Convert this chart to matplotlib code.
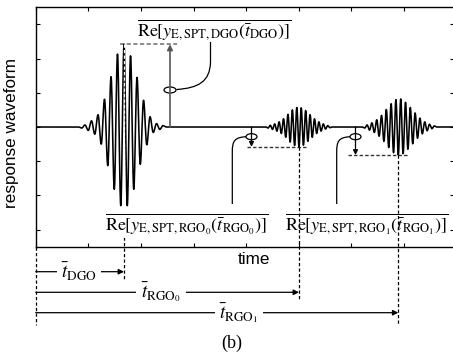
import numpy as np
import matplotlib
matplotlib.use('Agg')
import matplotlib.pyplot as plt
from matplotlib.patches import Ellipse, PathPatch
from matplotlib.path import Path

plt.rcParams['mathtext.fontset'] = 'stix'

# ---- data: extrema (time, amplitude) of the three wave packets
dgo_t = [0.814, 0.876, 0.937, 0.999, 1.061, 1.123, 1.185, 1.246, 1.308, 1.370, 1.432, 1.494,
         1.555, 1.617, 1.679, 1.741, 1.803, 1.864, 1.926, 1.988, 2.050, 2.112, 2.173, 2.235,
         2.297, 2.359, 2.421, 2.482]
dgo_v = [0.0, -0.03, 0.06, -0.10, 0.18, -0.21, 0.36, -0.50, 0.81, -1.13, 1.47, -1.82,
         2.13, -2.30, 2.42, -2.30, 2.08, -1.82, 1.45, -1.09, 0.78, -0.52, 0.30, -0.16,
         0.10, -0.07, 0.04, 0.0]

rgo0_t = [4.376, 4.418, 4.460, 4.502, 4.544, 4.586, 4.628, 4.670, 4.712, 4.754, 4.796, 4.838,
          4.880, 4.922, 4.964, 5.006, 5.048, 5.090, 5.132, 5.174, 5.216, 5.258, 5.300, 5.342,
          5.384, 5.426, 5.468, 5.510, 5.552, 5.594, 5.636]
rgo0_v = [0.0, -0.03, 0.05, -0.07, 0.09, -0.12, 0.15, -0.19, 0.24, -0.30, 0.37, -0.44,
          0.50, -0.54, 0.57, -0.58, 0.56, -0.53, 0.48, -0.42, 0.36, -0.30, 0.24, -0.19,
          0.15, -0.12, 0.09, -0.06, 0.04, -0.02, 0.0]

rgo1_t = [6.210, 6.256, 6.301, 6.347, 6.392, 6.438, 6.484, 6.529, 6.575, 6.620, 6.666, 6.712,
          6.757, 6.803, 6.848, 6.894, 6.940, 6.985, 7.031, 7.076, 7.122, 7.168, 7.213, 7.259,
          7.304, 7.350, 7.396, 7.441, 7.487, 7.532, 7.578, 7.624]
rgo1_v = [0.0, -0.03, 0.06, -0.09, 0.12, -0.16, 0.21, -0.27, 0.34, -0.42, 0.51, -0.60,
          0.68, -0.75, 0.80, -0.82, 0.82, -0.78, 0.72, -0.65, 0.57, -0.49, 0.41, -0.33,
          0.26, -0.20, 0.15, -0.11, 0.08, -0.05, 0.03, 0.0]

t_range = [0.0, 7.96]
y_ticks = [-3, -2, -1, 0, 1, 2, 3]
x_ticks = [0, 1, 2, 3, 4, 5, 6, 7]

# ---- figure geometry (pixels of the 453x354 picture)
W, H = 453, 354
X0, SX = 35.7, 52.6      # pixel of t=0, pixels per unit t
Y0, SY = 127.0, 34.2     # pixel of y=0, pixels per unit y
def X(px): return (px - X0) / SX
def Y(py): return (Y0 - py) / SY

fig = plt.figure(figsize=(W / 100, H / 100), dpi=100)
ax_left = X0 / W
ax_bottom = (H - 246.7) / H
ax = fig.add_axes([ax_left, ax_bottom, (t_range[1] * SX) / W, 239.4 / H])
ax.set_xlim(*t_range)
ax.set_ylim(-3.5, 3.5)
ax.set_xticks(x_ticks)
ax.set_yticks(y_ticks)
ax.tick_params(direction='in', length=3, width=0.8, top=True, right=True,
               labelbottom=False, labelleft=False)
for s in ax.spines.values():
    s.set_linewidth(1.0)

# ---- waveform: smooth half-cosine strokes between successive extrema
pts_t = [t_range[0]] + dgo_t + rgo0_t + rgo1_t + [t_range[1]]
pts_v = [0.0] + dgo_v + rgo0_v + rgo1_v + [0.0]
xs, ys = [], []
for i in range(len(pts_t) - 1):
    s = np.linspace(0, 1, 14, endpoint=False)
    t0, t1, v0, v1 = pts_t[i], pts_t[i + 1], pts_v[i], pts_v[i + 1]
    xs.append(t0 + (t1 - t0) * s)
    ys.append((v0 + v1) / 2 + (v0 - v1) / 2 * np.cos(np.pi * s))
xs.append([pts_t[-1]]); ys.append([pts_v[-1]])
ax.plot(np.concatenate(xs), np.concatenate(ys), color='black', lw=1.15, zorder=3)

# ---- key points
i_dgo = int(np.argmax(dgo_v)); t_dgo, a_dgo = dgo_t[i_dgo], dgo_v[i_dgo]
i_r0 = int(np.argmin(rgo0_v)); t_r0, a_r0 = rgo0_t[i_r0], rgo0_v[i_r0]
i_r1 = int(np.argmin(rgo1_v)); t_r1, a_r1 = rgo1_t[i_r1], rgo1_v[i_r1]

dash = (0, (2.6, 1.8))
kw = dict(clip_on=False)

# DGO annotation
ax.plot([t_dgo - 0.08, t_dgo + 1.0], [a_dgo, a_dgo], color='#777777', lw=1.2,
        ls=(0, (2.5, 1.5)), zorder=2, **kw)
ax.plot([t_dgo, t_dgo], [a_dgo, Y(206)], color='white', lw=0.9, ls=dash, zorder=4, **kw)
ax.plot([t_dgo, t_dgo], [Y(237), Y(280)], color='black', lw=0.9, ls=dash, zorder=4, **kw)
xa = t_dgo + 0.874
ax.annotate('', xy=(xa, a_dgo), xytext=(xa, 0), annotation_clip=False,
            arrowprops=dict(arrowstyle='-|>', color='#555555', lw=1.2,
                            mutation_scale=8, shrinkA=0, shrinkB=0))
ax.add_patch(Ellipse((xa, Y(90)), 12 / SX, 6 / SY, fill=False, lw=0.9, color='black'))
verts = [(X(176.5), Y(89.5)), (X(198), Y(88)), (X(210), Y(82)), (X(210.5), Y(62)),
         (X(210.5), Y(42))]
codes = [Path.MOVETO, Path.CURVE4, Path.CURVE4, Path.CURVE4, Path.LINETO]
ax.add_patch(PathPatch(Path(verts, codes), fill=False, lw=0.9, clip_on=False))

# RGO0 and RGO1 annotations
for t_c, a_c, xarr, left, right, px_line, y_end in [
        (t_r0, a_r0, X(251.5), 247, 307, 232.3, 300.7),
        (t_r1, a_r1, X(355.5), 347.7, 408, 336.7, 325)]:
    ax.plot([X(left), X(right)], [a_c, a_c], color='#333333', lw=1.0,
            ls=(0, (2.5, 1.5)), zorder=2, **kw)
    ax.plot([t_c, t_c], [a_c, Y(y_end)], color='black', lw=0.9, ls=dash, zorder=2, **kw)
    ax.annotate('', xy=(xarr, a_c), xytext=(xarr, 0), annotation_clip=False,
                arrowprops=dict(arrowstyle='-|>', color='black', lw=0.9,
                                mutation_scale=7, shrinkA=0, shrinkB=0))
    ax.add_patch(Ellipse((xarr, Y(136.7)), 11 / SX, 6 / SY, fill=False, lw=0.9,
                         color='black'))
    pxa = xarr * SX + X0
    verts = [(X(pxa - 5.5), Y(136.7)), (X(px_line + 2), Y(137.5)),
             (X(px_line), Y(141)), (X(px_line), Y(152)), (X(px_line), Y(204))]
    codes = [Path.MOVETO, Path.CURVE4, Path.CURVE4, Path.CURVE4, Path.LINETO]
    ax.add_patch(PathPatch(Path(verts, codes), fill=False, lw=0.9, clip_on=False))

# zero-time dashed line
ax.plot([0, 0], [Y(247), Y(325)], color='black', lw=0.9, ls=dash, **kw)

# labels
fs_m = 13
ax.text(X(137), Y(30), r'$\overline{\mathrm{Re}[y_{\mathrm{E,SPT,DGO}}(\bar{t}_{\mathrm{DGO}})]}$',
        fontsize=fs_m, ha='left', va='center', **kw)
ax.text(X(105), Y(224), r'$\overline{\mathrm{Re}[y_{\mathrm{E,SPT,RGO_0}}(\bar{t}_{\mathrm{RGO_0}})]}$',
        fontsize=fs_m, ha='left', va='center', zorder=5,
        bbox=dict(boxstyle='square,pad=0.1', fc='white', ec='none'), **kw)
ax.text(X(285), Y(224), r'$\overline{\mathrm{Re}[y_{\mathrm{E,SPT,RGO_1}}(\bar{t}_{\mathrm{RGO_1}})]}$',
        fontsize=fs_m, ha='left', va='center', zorder=5, **kw)

# time arrows below axis
for t_end, py, lab, pxc in [(t_dgo, 271.7, r'$\bar{t}_{\mathrm{DGO}}$', 79),
                            (t_r0, 292.3, r'$\bar{t}_{\mathrm{RGO_0}}$', 161),
                            (t_r1, 312.7, r'$\bar{t}_{\mathrm{RGO_1}}$', 239)]:
    ax.annotate('', xy=(t_end, Y(py)), xytext=(0, Y(py)), annotation_clip=False,
                arrowprops=dict(arrowstyle='-|>', color='black', lw=0.9,
                                mutation_scale=8, shrinkA=0, shrinkB=0))
    ax.text(X(pxc), Y(py), lab, fontsize=13.5, ha='center', va='center', zorder=5,
            bbox=dict(boxstyle='square,pad=0.25', fc='white', ec='none'), **kw)

fig.text(12 / W, 1 - 132.5 / H, 'response waveform', rotation=90, ha='center',
         va='center', fontsize=12.3, family='Liberation Sans')
fig.text(254 / W, 1 - 259 / H, 'time', ha='center', va='center', fontsize=12.3,
         family='Liberation Sans')
fig.text(232 / W, 1 - 343 / H, '(b)', ha='center', va='center', fontsize=13,
         family='Liberation Serif')

fig.savefig('out.png', dpi=100)
